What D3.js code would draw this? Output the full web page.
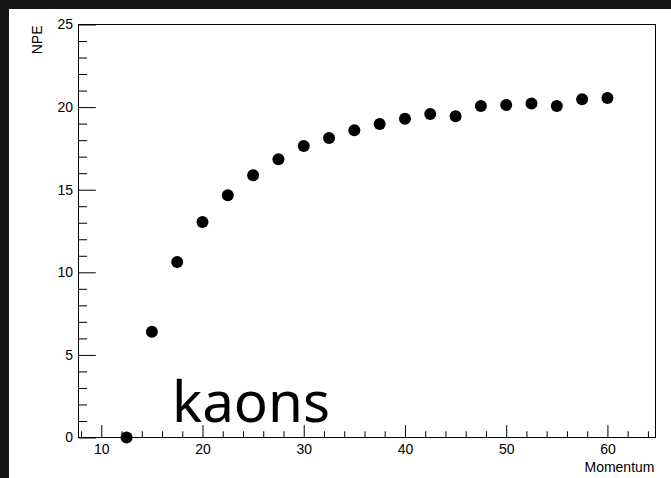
<!DOCTYPE html>
<html>
<head>
<meta charset="utf-8">
<script src="https://cdn.jsdelivr.net/npm/d3@7"></script>
<style>
  html, body { margin: 0; padding: 0; background: #171717; }
  svg { display: block; }
  .tick text { font-family: "Liberation Sans", Arial, sans-serif; font-size: 14px; fill: #000; }
</style>
</head>
<body>
<div id="chart"></div>
<script>
// Data: NPE vs momentum for kaons
const momentum = [12.5, 15, 17.5, 20, 22.5, 25, 27.5, 30, 32.5, 35, 37.5, 40,
                  42.5, 45, 47.5, 50, 52.5, 55, 57.5, 60];
const npe = [0, 6.4, 10.63, 13.05, 14.67, 15.88, 16.85, 17.64, 18.13, 18.6, 18.97, 19.3,
             19.58, 19.45, 20.06, 20.12, 20.22, 20.06, 20.48, 20.55];
const xMajorTicks = [10, 20, 30, 40, 50, 60];
const yMajorTicks = [0, 5, 10, 15, 20, 25];

const width = 671, height = 478;
const frame = { left: 78.5, right: 655.5, top: 24.5, bottom: 437.5 };

const svg = d3.select('#chart').append('svg')
  .attr('width', width)
  .attr('height', height);

// white canvas on dark backdrop
svg.append('rect')
  .attr('x', 9).attr('y', 9)
  .attr('width', width - 9).attr('height', height - 9)
  .attr('fill', '#fff');

const x = d3.scaleLinear().domain([7.75, 64.75]).range([frame.left, frame.right]);
const y = d3.scaleLinear().domain([0, 25]).range([frame.bottom, frame.top]);

const xMinor = d3.range(8, 65, 2).filter(v => !xMajorTicks.includes(v));
const yMinor = d3.range(0, 26, 1).filter(v => !yMajorTicks.includes(v));

// x axis
svg.append('g')
  .attr('transform', `translate(0,${frame.bottom})`)
  .call(d3.axisBottom(x).tickValues(xMinor).tickSize(-6.2).tickFormat(''))
  .call(g => g.select('.domain').remove());
svg.append('g')
  .attr('transform', `translate(0,${frame.bottom})`)
  .call(d3.axisBottom(x).tickValues(xMajorTicks).tickSize(-12.4).tickPadding(6.5))
  .call(g => g.select('.domain').remove());

// y axis
svg.append('g')
  .attr('transform', `translate(${frame.left},0)`)
  .call(d3.axisLeft(y).tickValues(yMinor).tickSize(-8.6).tickFormat(''))
  .call(g => g.select('.domain').remove());
svg.append('g')
  .attr('transform', `translate(${frame.left},0)`)
  .call(d3.axisLeft(y).tickValues(yMajorTicks).tickSize(-17.3).tickPadding(5.5))
  .call(g => g.select('.domain').remove());

svg.selectAll('.tick line').attr('stroke', '#000').attr('stroke-width', 1);

// frame
svg.append('rect')
  .attr('x', frame.left).attr('y', frame.top)
  .attr('width', frame.right - frame.left)
  .attr('height', frame.bottom - frame.top)
  .attr('fill', 'none')
  .attr('stroke', '#000')
  .attr('stroke-width', 1);

// axis titles
svg.append('text')
  .attr('x', frame.right - 1)
  .attr('y', 472)
  .attr('text-anchor', 'end')
  .style('font-family', '"Liberation Sans", Arial, sans-serif')
  .style('font-size', '14px')
  .text('Momentum');

svg.append('text')
  .attr('transform', `translate(42,${frame.top + 1}) rotate(-90)`)
  .attr('text-anchor', 'end')
  .style('font-family', '"Liberation Sans", Arial, sans-serif')
  .style('font-size', '14px')
  .text('NPE');

// points
svg.append('g')
  .selectAll('circle')
  .data(momentum)
  .join('circle')
  .attr('cx', d => x(d))
  .attr('cy', (d, i) => y(npe[i]))
  .attr('r', 6)
  .attr('fill', '#000');

// label
svg.append('text')
  .attr('x', 172)
  .attr('y', 422)
  .style('font-family', '"Noto Sans", sans-serif')
  .style('font-size', '56.5px')
  .attr('fill', '#000')
  .text('kaons');
</script>
</body>
</html>
